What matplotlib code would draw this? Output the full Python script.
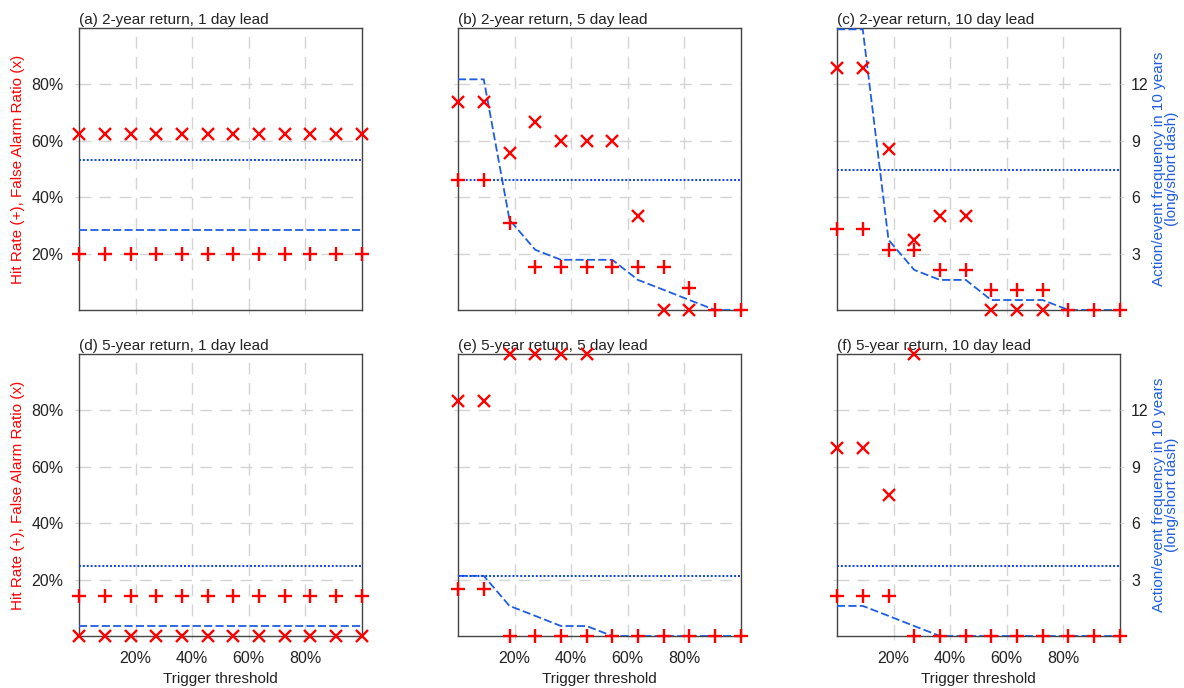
import numpy as np
import matplotlib
matplotlib.use("Agg")
import matplotlib.pyplot as plt

plt.rcParams['font.family'] = ['Liberation Sans', 'DejaVu Sans']

# trigger thresholds (%), one point per ensemble fraction
thresholds = [0, 9.1, 18.2, 27.3, 36.4, 45.5, 54.5, 63.6, 72.7, 81.8, 90.9, 100]
nan = np.nan

titles = ["(a) 2-year return, 1 day lead", "(b) 2-year return, 5 day lead",
          "(c) 2-year return, 10 day lead", "(d) 5-year return, 1 day lead",
          "(e) 5-year return, 5 day lead", "(f) 5-year return, 10 day lead"]

# hit rate (%)
hit_a = [20, 20, 20, 20, 20, 20, 20, 20, 20, 20, 20, 20]
hit_b = [46.2, 46.2, 30.8, 15.4, 15.4, 15.4, 15.4, 15.4, 15.4, 7.7, 0, 0]
hit_c = [28.6, 28.6, 21.4, 21.4, 14.3, 14.3, 7.1, 7.1, 7.1, 0, 0, 0]
hit_d = [14.3, 14.3, 14.3, 14.3, 14.3, 14.3, 14.3, 14.3, 14.3, 14.3, 14.3, 14.3]
hit_e = [16.7, 16.7, 0, 0, 0, 0, 0, 0, 0, 0, 0, 0]
hit_f = [14.3, 14.3, 14.3, 0, 0, 0, 0, 0, 0, 0, 0, 0]

# false alarm ratio (%)
far_a = [62.5, 62.5, 62.5, 62.5, 62.5, 62.5, 62.5, 62.5, 62.5, 62.5, 62.5, 62.5]
far_b = [73.9, 73.9, 55.6, 66.7, 60, 60, 60, 33.3, 0, 0, nan, nan]
far_c = [85.7, 85.7, 57.1, 25, 33.3, 33.3, 0, 0, 0, nan, nan, nan]
far_d = [0, 0, 0, 0, 0, 0, 0, 0, 0, 0, 0, 0]
far_e = [83.3, 83.3, 100, 100, 100, 100, nan, nan, nan, nan, nan, nan]
far_f = [66.7, 66.7, 50, 100, nan, nan, nan, nan, nan, nan, nan, nan]

# action frequency in 10 years (long dash)
act_a = [4.27, 4.27, 4.27, 4.27, 4.27, 4.27, 4.27, 4.27, 4.27, 4.27, 4.27, 4.27]
act_b = [12.27, 12.27, 4.8, 3.2, 2.67, 2.67, 2.67, 1.6, 1.07, 0.53, 0, 0]
act_c = [14.93, 14.93, 3.73, 2.13, 1.6, 1.6, 0.53, 0.53, 0.53, 0, 0, 0]
act_d = [0.53, 0.53, 0.53, 0.53, 0.53, 0.53, 0.53, 0.53, 0.53, 0.53, 0.53, 0.53]
act_e = [3.2, 3.2, 1.6, 1.07, 0.53, 0.53, 0, 0, 0, 0, 0, 0]
act_f = [1.6, 1.6, 1.07, 0.53, 0, 0, 0, 0, 0, 0, 0, 0]

# event frequency in 10 years (short dash)
event_freq = [8.0, 6.93, 7.47, 3.73, 3.2, 3.73]

hits = [hit_a, hit_b, hit_c, hit_d, hit_e, hit_f]
fars = [far_a, far_b, far_c, far_d, far_e, far_f]
acts = [act_a, act_b, act_c, act_d, act_e, act_f]

W, H = 1184, 688
fig = plt.figure(figsize=(W / 100, H / 100), dpi=100)

col_left = [79, 458, 837]
row_top = [28, 354]
aw, ah = 283, 282
grid_c = '#d4d4d4'
red = '#ff0000'
blue = '#1f5ee0'

for k in range(6):
    r, c = divmod(k, 3)
    rect = [col_left[c] / W, (H - row_top[r] - ah) / H, aw / W, ah / H]
    ax = fig.add_axes(rect)
    ax.set_xlim(0, 100)
    ax.set_ylim(0, 100)
    ax.set_xticks([20, 40, 60, 80])
    ax.set_yticks([20, 40, 60, 80])
    ax.grid(True, color=grid_c, lw=1.0, dashes=(8.5, 6))
    ax.tick_params(direction='out', length=3, color=grid_c, labelsize=11.5,
                   labelcolor='#222222', right=True)
    ax.tick_params(axis='y', pad=8)
    ax.tick_params(axis='x', pad=8)
    for s in ax.spines.values():
        s.set_color('#444444')
        s.set_linewidth(1.0)
    ax.set_title(titles[k], loc='left', fontsize=11, pad=3, color='#222222')

    if c == 0:
        ax.set_yticklabels(['20%', '40%', '60%', '80%'])
        ax.set_ylabel('Hit Rate (+), False Alarm Ratio (x)', color=red, fontsize=11, labelpad=5)
    else:
        ax.set_yticklabels([])
    if r == 1:
        ax.set_xticklabels(['20%', '40%', '60%', '80%'])
        ax.set_xlabel('Trigger threshold', fontsize=11, color='#222222', labelpad=4)
    else:
        ax.set_xticklabels([])

    ax2 = ax.twinx()
    ax2.set_ylim(0, 15)
    ax2.plot(thresholds, acts[k], color=blue, lw=1.3, dashes=(4.5, 1.8))
    ax2.axhline(event_freq[k], color='#1040f0', lw=1.4, linestyle=(0, (1, 1)))
    for s in ax2.spines.values():
        s.set_visible(False)
    if c == 2:
        ax2.set_yticks([3, 6, 9, 12])
        ax2.tick_params(direction='out', length=3, color=grid_c, labelsize=11.5,
                        labelcolor='#222222', pad=5)
        ax2.set_ylabel('Action/event frequency in 10 years\n(long/short dash)',
                       color=blue, fontsize=11, labelpad=2, linespacing=0.95)
    else:
        ax2.set_yticks([])

    ax2.plot(thresholds, np.array(hits[k]) * 0.15, linestyle='none', marker='+',
             color=red, ms=9.5, mew=1.7, clip_on=False, zorder=5)
    ax2.plot(thresholds, np.array(fars[k]) * 0.15, linestyle='none', marker='x',
             color=red, ms=8, mew=1.7, clip_on=False, zorder=5)

fig.savefig('out.png', dpi=100)
